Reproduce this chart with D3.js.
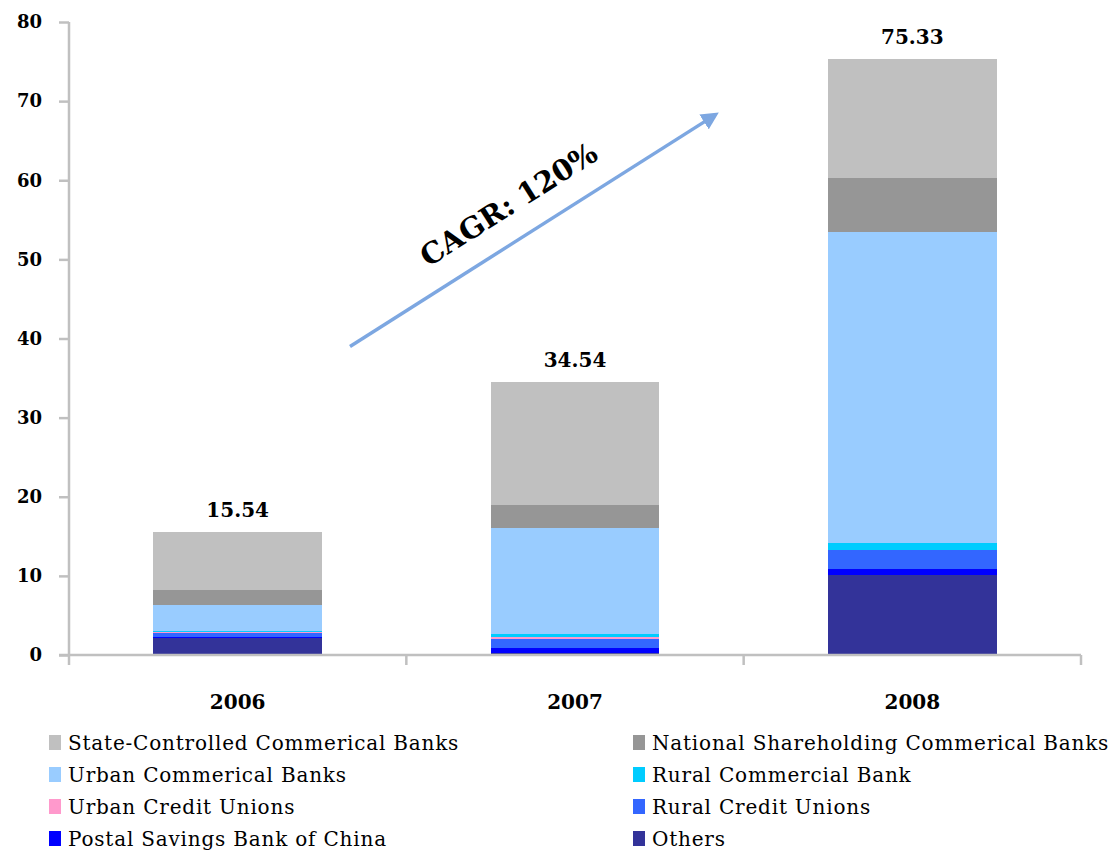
<!DOCTYPE html>
<html>
<head>
<meta charset="utf-8">
<script src="https://cdn.jsdelivr.net/npm/d3@7"></script>
<style>
  html, body { margin: 0; padding: 0; background: #fff; }
  svg { display: block; }
  text { font-family: "DejaVu Serif", "Liberation Serif", serif; fill: #000; }
</style>
</head>
<body>
<svg id="chart" width="1110" height="851"></svg>
<script>
// Years on the category axis
const years = ["2006", "2007", "2008"];

// Segment values per year (stacked bottom to top)
const others          = [2.10, 0.25, 10.10];
const postalSavings   = [0.15, 0.63, 0.76];
const ruralCreditU    = [0.50, 1.14, 2.40];
const urbanCreditU    = [0.17, 0.25, 0.00];
const ruralCommercial = [0.05, 0.38, 0.89];
const urbanCommercial = [3.30, 13.40, 39.37];
const nationalShare   = [1.90, 2.91, 6.71];
const stateControlled = [7.37, 15.58, 15.10];

const yTicks = [0, 10, 20, 30, 40, 50, 60, 70, 80];

// Series definitions, bottom of the stack first
const series = [
  { key: "Others",                                values: others,          color: "#333399" },
  { key: "Postal Savings Bank of China",          values: postalSavings,   color: "#0000FF" },
  { key: "Rural Credit Unions",                   values: ruralCreditU,    color: "#3366FF" },
  { key: "Urban Credit Unions",                   values: urbanCreditU,    color: "#FF99CC" },
  { key: "Rural Commercial Bank",                 values: ruralCommercial, color: "#00CCFF" },
  { key: "Urban Commerical Banks",                values: urbanCommercial, color: "#99CCFF" },
  { key: "National Shareholding Commerical Banks",values: nationalShare,   color: "#969696" },
  { key: "State-Controlled Commerical Banks",     values: stateControlled, color: "#C0C0C0" }
];

// Legend reading order (two columns, row by row)
const legendOrder = [
  "State-Controlled Commerical Banks", "National Shareholding Commerical Banks",
  "Urban Commerical Banks", "Rural Commercial Bank",
  "Urban Credit Unions", "Rural Credit Unions",
  "Postal Savings Bank of China", "Others"
];

const svg = d3.select("#chart");
const margin = { left: 69, right: 1081, top: 22, bottom: 655 };

const x = d3.scaleBand().domain(years).range([margin.left, margin.right]).paddingInner(0.5).paddingOuter(0.25);
const y = d3.scaleLinear().domain([0, 80]).range([margin.bottom, margin.top]);

// Build a row per year for the stack layout
const rows = years.map((yr, i) => {
  const r = { year: yr };
  series.forEach(s => { r[s.key] = s.values[i]; });
  return r;
});
const stacked = d3.stack().keys(series.map(s => s.key))(rows);
const colorOf = new Map(series.map(s => [s.key, s.color]));

// Bars
svg.append("g").selectAll("g")
  .data(stacked)
  .join("g")
  .attr("fill", d => colorOf.get(d.key))
  .selectAll("rect")
  .data(d => d)
  .join("rect")
  .attr("x", d => x(d.data.year))
  .attr("width", x.bandwidth())
  .attr("y", d => y(d[1]))
  .attr("height", d => Math.max(0, y(d[0]) - y(d[1])))
  .attr("shape-rendering", "crispEdges");

// Y axis
const axisColor = "#C0C0C0";
const yAxis = svg.append("g")
  .attr("transform", `translate(${margin.left},0)`)
  .call(d3.axisLeft(y).tickValues(yTicks).tickSize(10).tickPadding(17).tickFormat(d3.format("d")));
yAxis.select(".domain").attr("stroke", axisColor).attr("stroke-width", 2.5)
  .attr("d", `M0,${y(80)}V${y(0)}`);
yAxis.selectAll(".tick line").attr("stroke", axisColor).attr("stroke-width", 2.5);
yAxis.selectAll(".tick text")
  .style("font-family", "\"DejaVu Serif\", serif")
  .style("font-size", "18px")
  .style("font-weight", "bold")
  .attr("fill", "#000");

// X axis: baseline with boundary ticks between categories
const xg = svg.append("g");
xg.append("line")
  .attr("x1", margin.left - 10).attr("x2", margin.right)
  .attr("y1", y(0)).attr("y2", y(0))
  .attr("stroke", axisColor).attr("stroke-width", 2.5);
const boundaries = d3.range(years.length + 1).map(i => margin.left + i * (margin.right - margin.left) / years.length);
xg.selectAll("line.b")
  .data(boundaries)
  .join("line")
  .attr("class", "b")
  .attr("x1", d => d).attr("x2", d => d)
  .attr("y1", y(0)).attr("y2", y(0) + 10)
  .attr("stroke", axisColor).attr("stroke-width", 2.5);
xg.selectAll("text")
  .data(years)
  .join("text")
  .attr("x", d => x(d) + x.bandwidth() / 2)
  .attr("y", y(0) + 54)
  .attr("text-anchor", "middle")
  .style("font-size", "20px")
  .style("font-weight", "bold")
  .text(d => d);

// Total labels above each bar
const totals = rows.map(r => ({ year: r.year, total: d3.sum(series, s => r[s.key]) }));
svg.append("g").selectAll("text")
  .data(totals)
  .join("text")
  .attr("x", d => x(d.year) + x.bandwidth() / 2)
  .attr("y", d => y(d.total) - 15)
  .attr("text-anchor", "middle")
  .style("font-size", "20px")
  .style("font-weight", "bold")
  .text(d => d3.format(".2f")(d.total));

// Growth arrow annotation
const arrowColor = "#7DA7E1";
svg.append("defs").append("marker")
  .attr("id", "arrowHead")
  .attr("viewBox", "0 0 10 10")
  .attr("refX", 2).attr("refY", 5)
  .attr("markerWidth", 5).attr("markerHeight", 5)
  .attr("orient", "auto")
  .append("path")
  .attr("d", "M0,0L10,5L0,10z")
  .attr("fill", arrowColor);

const arrowStart = { x: 350, v: 39.0 };
const arrowEnd = { x: 707, v: 67.6 };
svg.append("line")
  .attr("x1", arrowStart.x).attr("y1", y(arrowStart.v))
  .attr("x2", arrowEnd.x).attr("y2", y(arrowEnd.v))
  .attr("stroke", arrowColor)
  .attr("stroke-width", 3.5)
  .attr("marker-end", "url(#arrowHead)");

const angle = Math.atan2(y(arrowEnd.v) - y(arrowStart.v), arrowEnd.x - arrowStart.x) * 180 / Math.PI;
svg.append("text")
  .attr("transform", `translate(514,213) rotate(${angle})`)
  .attr("text-anchor", "middle")
  .style("font-size", "29px")
  .style("font-weight", "bold")
  .text("CAGR: 120%");

// Legend
const legendCols = [49, 633];
const legendRows = [743, 775, 807, 839];
const legend = svg.append("g").selectAll("g")
  .data(legendOrder)
  .join("g")
  .attr("transform", (d, i) => `translate(${legendCols[i % 2]},${legendRows[Math.floor(i / 2)]})`);
legend.append("rect")
  .attr("x", 0).attr("y", -8)
  .attr("width", 12).attr("height", 15)
  .attr("fill", d => colorOf.get(d));
legend.append("text")
  .attr("x", 19).attr("y", 7)
  .style("font-size", "20px")
  .style("letter-spacing", "0.8px")
  .text(d => d);
</script>
</body>
</html>
